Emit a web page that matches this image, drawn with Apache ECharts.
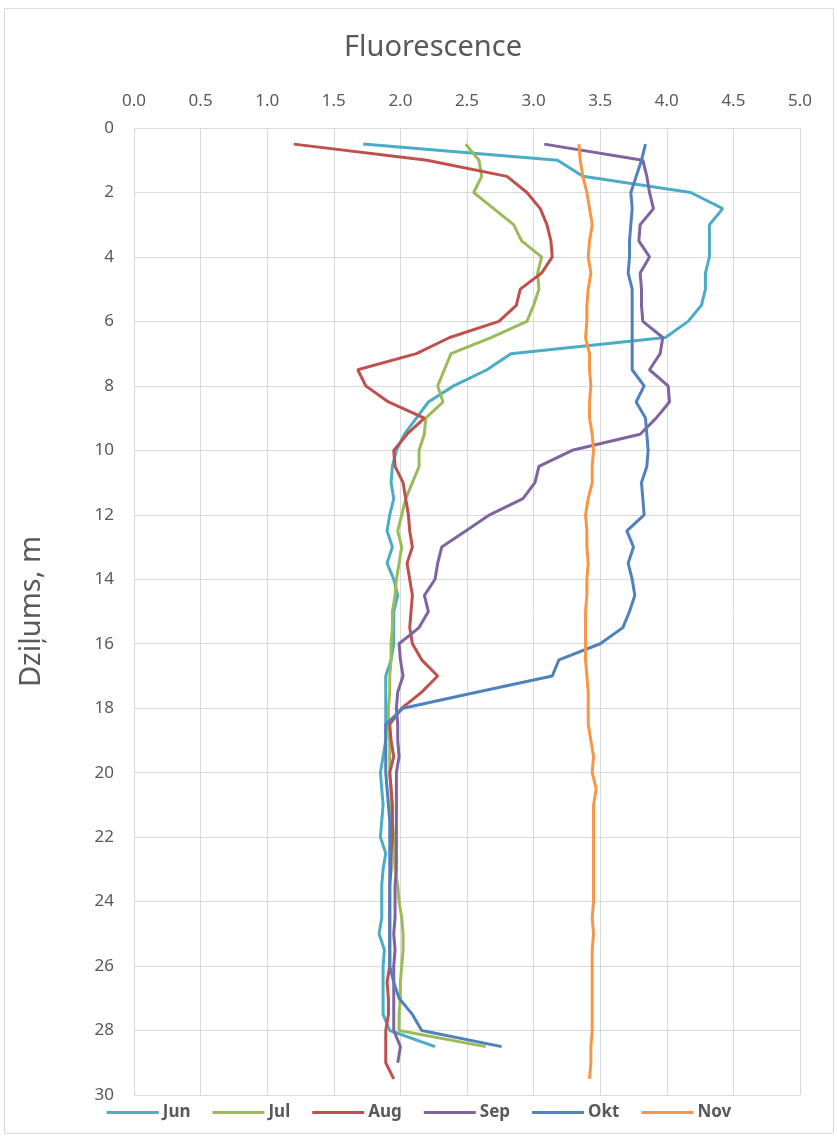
<!DOCTYPE html>
<html><head><meta charset="utf-8">
<script src="https://cdn.jsdelivr.net/npm/echarts@6/dist/echarts.min.js"></script>
<style>html,body{margin:0;padding:0;background:#fff}#c{width:838px;height:1140px}</style>
</head><body><div id="c"></div>
<script>
const depths = [0.5,1,1.5,2,2.5,3,3.5,4,4.5,5,5.5,6,6.5,7,7.5,8,8.5,9,9.5,10,10.5,11,11.5,12,12.5,13,13.5,14,14.5,15,15.5,16,16.5,17,17.5,18,18.5,19,19.5,20,20.5,21,21.5,22,22.5,23,23.5,24,24.5,25,25.5,26,26.5,27,27.5,28,28.5,29,29.5];
const xTicks = [0,0.5,1,1.5,2,2.5,3,3.5,4,4.5,5];
const yTicks = [0,2,4,6,8,10,12,14,16,18,20,22,24,26,28,30];
const months = ['Jun','Jul','Aug','Sep','Okt','Nov'];
const jun = [1.72,3.18,3.37,4.18,4.42,4.32,4.32,4.32,4.29,4.29,
4.26,4.16,3.99,2.83,2.65,2.40,2.21,2.12,2.03,1.97,
1.94,1.93,1.95,1.92,1.90,1.94,1.90,1.95,1.98,1.95,
1.95,1.95,1.93,1.89,1.89,1.89,1.89,1.89,1.87,1.85,
1.86,1.87,1.86,1.85,1.89,1.87,1.86,1.86,1.86,1.84,
1.88,1.87,1.87,1.87,1.87,1.92,2.26];
const jul = [2.49,2.59,2.61,2.55,2.70,2.85,2.91,3.06,3.03,3.04,
3.00,2.95,2.68,2.38,2.33,2.28,2.32,2.19,2.18,2.14,
2.14,2.09,2.04,2.01,1.98,2.01,1.99,1.97,1.96,1.94,
1.94,1.93,1.93,1.92,1.92,1.91,1.91,1.92,1.92,1.92,
1.93,1.93,1.94,1.95,1.95,1.96,1.98,1.99,2.01,2.02,
2.02,2.01,2.00,2.00,1.99,1.99,2.64];
const aug = [1.20,2.20,2.80,2.95,3.05,3.10,3.13,3.14,3.06,2.90,
2.87,2.74,2.37,2.12,1.68,1.74,1.91,2.18,2.05,1.95,
1.96,2.02,2.04,2.06,2.07,2.09,2.05,2.07,2.09,2.08,
2.07,2.09,2.16,2.28,2.16,2.01,1.92,1.93,1.95,1.92,
1.93,1.94,1.94,1.94,1.93,1.93,1.92,1.92,1.92,1.92,
1.92,1.92,1.90,1.91,1.91,1.89,1.89,1.89,1.95];
const sep = [3.08,3.82,3.85,3.87,3.90,3.80,3.79,3.87,3.80,3.81,
3.81,3.82,3.97,3.95,3.87,4.01,4.02,3.92,3.80,3.29,
3.04,3.01,2.92,2.67,2.49,2.31,2.28,2.26,2.18,2.21,
2.14,1.99,2.00,2.02,1.98,1.97,1.98,1.98,1.99,1.97,
1.97,1.97,1.97,1.97,1.97,1.97,1.96,1.96,1.96,1.95,
1.96,1.95,1.95,1.95,1.95,1.95,2.00,1.98];
const okt = [3.84,3.81,3.77,3.73,3.74,3.73,3.72,3.72,3.71,3.74,
3.74,3.74,3.74,3.74,3.74,3.83,3.77,3.84,3.85,3.86,
3.85,3.81,3.82,3.83,3.70,3.75,3.71,3.74,3.76,3.72,
3.67,3.50,3.19,3.14,2.58,2.02,1.89,1.89,1.89,1.89,
1.90,1.91,1.92,1.92,1.92,1.92,1.92,1.92,1.92,1.92,
1.92,1.92,1.95,1.99,2.09,2.16,2.76];
const nov = [3.34,3.35,3.37,3.40,3.42,3.44,3.42,3.41,3.43,3.41,
3.40,3.40,3.39,3.42,3.42,3.43,3.42,3.42,3.44,3.45,
3.44,3.44,3.41,3.39,3.40,3.40,3.41,3.40,3.40,3.39,
3.39,3.39,3.39,3.40,3.41,3.41,3.41,3.43,3.45,3.44,
3.47,3.45,3.45,3.45,3.45,3.45,3.45,3.45,3.44,3.45,
3.44,3.44,3.44,3.44,3.44,3.44,3.43,3.43,3.42];
const colors = ['#4BACC6','#9BBB59','#C0504D','#8064A2','#4F81BD','#F79646'];
const values = [jun, jul, aug, sep, okt, nov];

const FONT = "'Liberation Sans Narrow','Noto Sans',sans-serif";
const chart = echarts.init(document.getElementById('c'), null, {renderer:'canvas'});
chart.setOption({
  animation:false,
  backgroundColor:'#fff',
  color: colors,
  title:{text:'Fluorescence', left:428, top:28, textAlign:'center',
    textStyle:{fontFamily:FONT, fontSize:29, fontWeight:'normal', color:'#595959'}},
  graphic:[{type:'rect', shape:{x:4.5,y:8.5,width:829,height:1125}, style:{fill:'none', stroke:'#d9d9d9', lineWidth:1}, z:-10}],
  legend:{bottom:14, left:'center', itemWidth:52, itemHeight:3, itemGap:22, icon:'rect',
    textStyle:{fontFamily:FONT, fontSize:17, fontWeight:'bold', color:'#595959', padding:[0,0,0,-1]},
    data: months},
  grid:{left:134, right:38, top:128, bottom:45},
  xAxis:{type:'value', position:'top', min:0, max:5, interval:0.5,
    axisLine:{show:false}, axisTick:{show:false},
    axisLabel:{fontFamily:FONT, fontSize:17, color:'#595959', margin:18, formatter:v=>v.toFixed(1),
      customValues: xTicks},
    splitLine:{show:true, lineStyle:{color:'#d9d9d9', width:1}}},
  yAxis:{type:'value', inverse:true, min:0, max:30, interval:2,
    name:'Dziļums, m', nameLocation:'middle', nameGap:88, nameRotate:90,
    nameTextStyle:{fontFamily:FONT, fontSize:29, color:'#595959'},
    axisLine:{show:false}, axisTick:{show:false},
    axisLabel:{fontFamily:FONT, fontSize:17, color:'#595959', margin:20, customValues: yTicks},
    splitLine:{show:true, lineStyle:{color:'#d9d9d9', width:1}}},
  series: months.map((m,i)=>({
    name:m, type:'line', showSymbol:false, symbol:'none',
    lineStyle:{width:3, color:colors[i]},
    data: values[i].map((v,k)=>[v, depths[k]])
  }))
});
</script></body></html>
